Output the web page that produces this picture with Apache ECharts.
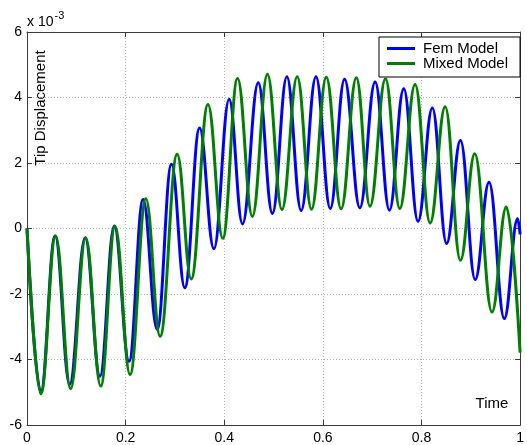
<!DOCTYPE html>
<html>
<head>
<meta charset="utf-8">
<script src="https://cdn.jsdelivr.net/npm/echarts@6/dist/echarts.min.js"></script>
<style>
  html, body { margin: 0; padding: 0; background: #fff; }
  #chart { width: 527px; height: 445px; }
</style>
</head>
<body>
<div id="chart"></div>
<script>
// Tip displacement (units of 1e-3) at the turning points of each response curve
const femTime = [0, 0.028, 0.057, 0.0865, 0.118, 0.148, 0.177, 0.207, 0.2354, 0.264, 0.293, 0.320,
  0.350, 0.379, 0.410, 0.437, 0.469, 0.4977, 0.527, 0.556, 0.586, 0.615, 0.644, 0.675, 0.706,
  0.735, 0.764, 0.793, 0.822, 0.851, 0.879, 0.909, 0.937, 0.968, 0.995, 1.0];
const femDisp = [0, -5.0, -0.23, -4.76, -0.28, -4.51, 0.08, -4.05, 0.885, -3.08, 1.96, -1.81,
  3.07, -0.62, 3.95, 0.14, 4.45, 0.46, 4.63, 0.55, 4.63, 0.61, 4.56, 0.63, 4.47,
  0.56, 4.27, 0.22, 3.68, -0.46, 2.69, -1.56, 1.41, -2.75, 0.30, -0.18];

const mixedTime = [0, 0.028, 0.058, 0.0885, 0.119, 0.1495, 0.1785, 0.209, 0.241, 0.270, 0.3045, 0.333,
  0.367, 0.397, 0.427, 0.457, 0.4876, 0.517, 0.548, 0.577, 0.607, 0.637, 0.668, 0.6955, 0.727,
  0.756, 0.787, 0.8175, 0.848, 0.879, 0.908, 0.943, 0.972, 1.0];
const mixedDisp = [0, -5.05, -0.23, -4.89, -0.28, -4.81, 0.07, -4.46, 0.91, -3.29, 2.27, -1.54,
  3.79, -0.30, 4.58, 0.37, 4.71, 0.58, 4.63, 0.59, 4.62, 0.60, 4.60, 0.68, 4.57,
  0.61, 4.40, 0.17, 3.72, -0.97, 2.28, -2.55, 0.66, -3.79];

const seriesNames = ['Fem Model', 'Mixed Model'];
const xTicks = { min: 0, max: 1, step: 0.2 };
const yTicks = { min: -6, max: 6, step: 2 };

const FONT = 'Liberation Sans, Arial, sans-serif';
const AXIS_COLOR = '#3c3c3c';
const GRID_COLOR = '#b4b4b4';

function pairs(xs, ys) { return xs.map((x, i) => [x, ys[i]]); }

const gridLine = { show: true, lineStyle: { color: GRID_COLOR, type: [1, 2], width: 1 } };
const boxLine = { show: true, onZero: false, lineStyle: { color: AXIS_COLOR, width: 1 } };
const insideTick = { show: true, inside: true, length: 5, lineStyle: { color: AXIS_COLOR } };

const chart = echarts.init(document.getElementById('chart'), null, { renderer: 'canvas' });
chart.setOption({
  animation: false,
  backgroundColor: '#fff',
  grid: { left: 27, right: 3, top: 32, bottom: 19, containLabel: false },
  legend: {
    data: seriesNames,
    orient: 'vertical',
    left: 379, top: 37,
    padding: [4, 12, 6, 8],
    itemGap: 0,
    itemWidth: 28, itemHeight: 3,
    icon: 'rect',
    borderColor: '#000', borderWidth: 1, borderRadius: 0,
    backgroundColor: '#fff',
    textStyle: { fontFamily: FONT, fontSize: 15, color: '#000', lineHeight: 15, padding: [0, 0, 0, 3] }
  },
  xAxis: [
    {
      type: 'value', min: xTicks.min, max: xTicks.max, interval: xTicks.step,
      axisLine: boxLine, axisTick: insideTick, splitLine: gridLine,
      axisLabel: { color: '#000', fontFamily: FONT, fontSize: 14, margin: 6 }
    },
    {
      type: 'value', position: 'top', min: xTicks.min, max: xTicks.max, interval: xTicks.step,
      axisLine: boxLine, axisTick: insideTick, splitLine: { show: false }, axisLabel: { show: false }
    }
  ],
  yAxis: [
    {
      type: 'value', min: yTicks.min, max: yTicks.max, interval: yTicks.step,
      axisLine: boxLine, axisTick: insideTick, splitLine: gridLine,
      axisLabel: { color: '#000', fontFamily: FONT, fontSize: 14, margin: 5 }
    },
    {
      type: 'value', position: 'right', min: yTicks.min, max: yTicks.max, interval: yTicks.step,
      axisLine: boxLine, axisTick: insideTick, splitLine: { show: false }, axisLabel: { show: false }
    }
  ],
  series: [
    {
      name: seriesNames[0], type: 'line', data: pairs(femTime, femDisp),
      showSymbol: false, symbol: 'none', smooth: 0.4, smoothMonotone: 'x',
      lineStyle: { color: '#0000ff', width: 3 }, itemStyle: { color: '#0000ff' }, z: 3
    },
    {
      name: seriesNames[1], type: 'line', data: pairs(mixedTime, mixedDisp),
      showSymbol: false, symbol: 'none', smooth: 0.4, smoothMonotone: 'x',
      lineStyle: { color: '#008000', width: 3 }, itemStyle: { color: '#008000' }, z: 4
    }
  ],
  graphic: [
    {
      type: 'text', x: 27, y: 29,
      style: {
        text: '{b|x 10}{s|-3}',
        textVerticalAlign: 'bottom',
        rich: {
          b: { fontFamily: FONT, fontSize: 14, fill: '#000', verticalAlign: 'bottom' },
          s: { fontFamily: FONT, fontSize: 11, fill: '#000', verticalAlign: 'top', padding: [0, 0, 8, 1] }
        }
      }
    },
    {
      type: 'text', x: 41, y: 108, rotation: Math.PI / 2,
      style: {
        text: 'Tip Displacement', fontFamily: FONT, fontSize: 15, fill: '#000',
        textAlign: 'center', textVerticalAlign: 'middle'
      }
    },
    {
      type: 'text', x: 492, y: 404,
      style: {
        text: 'Time', fontFamily: FONT, fontSize: 15, fill: '#000',
        textAlign: 'center', textVerticalAlign: 'middle'
      }
    }
  ]
});
</script>
</body>
</html>
